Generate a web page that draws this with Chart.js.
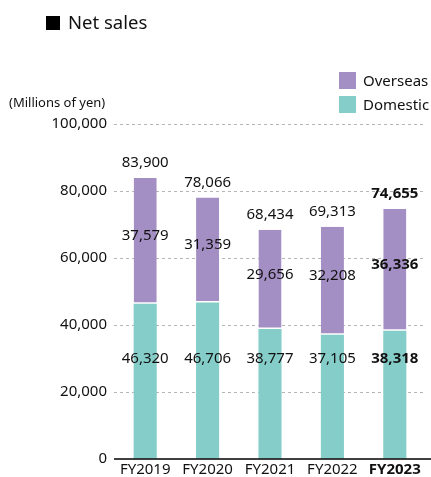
<!DOCTYPE html>
<html>
<head>
<meta charset="utf-8">
<script src="https://cdn.jsdelivr.net/npm/chart.js@4"></script>
<style>
  body { margin: 0; background: #fff; font-family: "Noto Sans", sans-serif; color: #111; }
  #wrap { position: relative; width: 431px; height: 477px; }
  #title { position: absolute; left: 46px; top: 8px; font-size: 18.5px; line-height: 28px; }
  #title span.sq { display: inline-block; width: 14px; height: 14px; background: #000; margin-right: 8px; vertical-align: -1px; }
  #unit { position: absolute; left: 9px; top: 93px; font-size: 13px; }
  .lg { position: absolute; left: 339px; font-size: 15px; line-height: 17px; }
  .lg span { display: inline-block; width: 17px; height: 17px; margin-right: 7px; vertical-align: top; }
  canvas { position: absolute; left: 0; top: 0; }
</style>
</head>
<body>
<div id="wrap">
  <canvas id="myChart" width="431" height="477"></canvas>
  <div id="title"><span class="sq"></span>Net sales</div>
  <div id="unit">(Millions of yen)</div>
  <div class="lg" style="top:72px"><span style="background:#a48fc4"></span>Overseas</div>
  <div class="lg" style="top:96px"><span style="background:#85cdc8"></span>Domestic</div>
</div>
<script>
// データ
var years = ["FY2019", "FY2020", "FY2021", "FY2022", "FY2023"];
var domestic = [46320, 46706, 38777, 37105, 38318];
var overseas = [37579, 31359, 29656, 32208, 36336];
var totals = [83900, 78066, 68434, 69313, 74655];
var yTicks = [0, 20000, 40000, 60000, 80000, 100000];

var fmt = function (v) { return v.toLocaleString("en-US"); };
var fontFor = function (i) {
  return (i == years.length - 1 ? "bold " : "") + "15px 'Noto Sans', sans-serif";
};

// 数値ラベルを描くプラグイン
var labelPlugin = {
  id: "labels",
  afterDatasetsDraw: function (chart) {
    var ctx = chart.ctx;
    var y = chart.scales.y;
    var x = chart.scales.x;
    ctx.save();
    ctx.fillStyle = "#111";
    ctx.textAlign = "center";
    ctx.textBaseline = "middle";
    for (var i = 0; i < years.length; i++) {
      var cx = x.getPixelForValue(i);
      ctx.font = fontFor(i);
      // 合計
      ctx.fillText(fmt(totals[i]), cx, y.getPixelForValue(totals[i]) - 15);
      // 海外（セグメントの中央付近）
      var mid = (y.getPixelForValue(domestic[i]) + y.getPixelForValue(domestic[i] + overseas[i])) / 2;
      ctx.fillText(fmt(overseas[i]), cx, mid - 5);
      // 国内（高さをそろえる）
      ctx.fillText(fmt(domestic[i]), cx, y.getPixelForValue(30000));
    }
    // x軸の線
    ctx.strokeStyle = "#000";
    ctx.lineWidth = 1.5;
    ctx.beginPath();
    ctx.moveTo(chart.chartArea.left, y.getPixelForValue(0));
    ctx.lineTo(431, y.getPixelForValue(0));
    ctx.stroke();
    ctx.restore();
  }
};

var ctx = document.getElementById("myChart").getContext("2d");
var myChart = new Chart(ctx, {
  type: "bar",
  data: {
    labels: years,
    datasets: [
      {
        label: "Domestic",
        data: domestic,
        backgroundColor: "#85cdc8",
        borderWidth: 0,
        barPercentage: 0.37,
        categoryPercentage: 1
      },
      {
        label: "Overseas",
        data: overseas,
        backgroundColor: "#a48fc4",
        borderColor: "#fff",
        borderWidth: { top: 0, left: 0, right: 0, bottom: 1.5 },
        borderSkipped: false,
        barPercentage: 0.37,
        categoryPercentage: 1
      }
    ]
  },
  options: {
    responsive: false,
    animation: false,
    layout: { padding: { top: 124, right: 5, bottom: 0, left: 0 } },
    plugins: { legend: { display: false }, tooltip: { enabled: false } },
    scales: {
      x: {
        stacked: true,
        grid: { display: false, drawTicks: false, tickLength: 0 },
        border: { display: false },
        ticks: {
          color: "#111",
          padding: 2,
          font: function (c) {
            return { family: "'Noto Sans', sans-serif", size: 15, weight: c.index == years.length - 1 ? "bold" : "normal" };
          }
        },
        afterFit: function (s) { s.height = 18; }
      },
      y: {
        stacked: true,
        min: 0,
        max: 100000,
        afterBuildTicks: function (s) { s.ticks = yTicks.map(function (v) { return { value: v }; }); },
        grid: {
          color: function (c) { return c.tick.value == 0 ? "rgba(0,0,0,0)" : "#b5b5b5"; },
          drawTicks: false,
          lineWidth: 1
        },
        border: { display: false, dash: [3, 3] },
        ticks: {
          color: "#111",
          padding: 7,
          font: { family: "'Noto Sans', sans-serif", size: 15 },
          callback: function (v) { return fmt(v); }
        },
        afterFit: function (s) { s.width = 114; }
      }
    }
  },
  plugins: [labelPlugin]
});
</script>
</body>
</html>
